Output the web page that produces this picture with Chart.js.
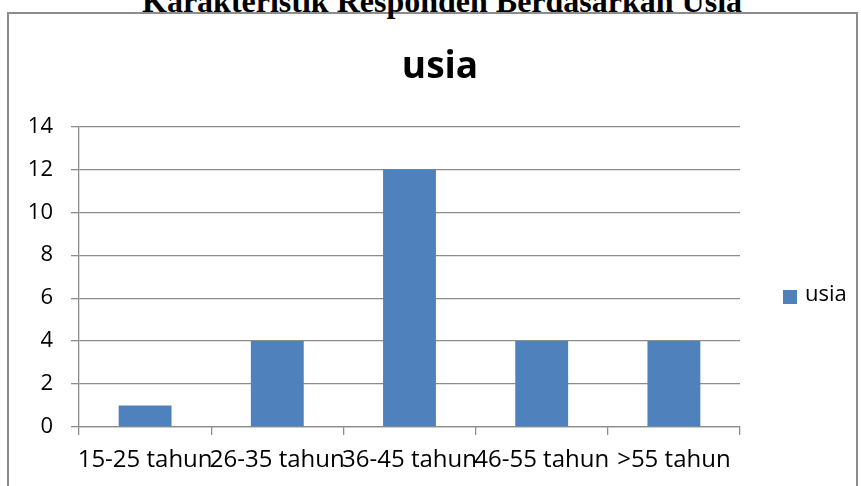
<!DOCTYPE html>
<html>
<head>
<meta charset="utf-8">
<script src="https://cdn.jsdelivr.net/npm/chart.js@4/dist/chart.umd.min.js"></script>
<style>
  body { margin: 0; background: #fff; overflow: hidden; }
  #heading {
    position: absolute; left: 142px; top: -15px;
    font: bold 32px "Liberation Serif", serif; line-height: 32px;
    white-space: nowrap; color: #000;
  }
  #frame {
    position: absolute; left: 7px; top: 12px; width: 851px; height: 490px;
    border: 2px solid #8c8c8c; box-sizing: border-box; background: #fff;
  }
  #wrap { position: absolute; left: 10px; top: 16px; width: 846px; height: 470px; }
</style>
</head>
<body>
<div id="frame"></div>
<div id="heading">Karakteristik Responden Berdasarkan Usia</div>
<div id="wrap"><canvas id="barChart"></canvas></div>
<script>
const categories = ["15-25 tahun", "26-35 tahun", "36-45 tahun", "46-55 tahun", ">55 tahun"];
const usiaValues = [1, 4, 12, 4, 4];
const seriesName = "usia";

const gridGray = "#8c8c8c";

// legend on the right, drawn by hand so it sits where Excel put it
const sideLegend = {
  id: "sideLegend",
  afterDraw(chart) {
    const { ctx, chartArea } = chart;
    const ds = chart.data.datasets[0];
    const cy = 281;
    ctx.save();
    ctx.fillStyle = ds.backgroundColor;
    ctx.fillRect(chartArea.right + 43, cy - 7, 14, 14);
    ctx.fillStyle = "#000";
    ctx.font = "22px 'Open Sans'";
    ctx.textBaseline = "middle";
    ctx.fillText(ds.label, chartArea.right + 65, cy - 2);
    ctx.restore();
  },
};

const ctx = document.getElementById("barChart").getContext("2d");
new Chart(ctx, {
  type: "bar",
  data: {
    labels: categories,
    datasets: [
      {
        label: seriesName,
        data: usiaValues,
        backgroundColor: "#4f81bd",
        barPercentage: 0.4,
        categoryPercentage: 1,
      },
    ],
  },
  options: {
    responsive: true,
    maintainAspectRatio: false,
    animation: false,
    layout: { padding: { left: 14, right: 0, top: 0, bottom: 0 } },
    plugins: {
      legend: { display: false },
      tooltip: { enabled: false },
      title: {
        display: true,
        text: seriesName,
        color: "#000",
        font: { family: "Open Sans", size: 37, weight: "bold" },
        padding: { top: 29, bottom: 37 },
      },
    },
    scales: {
      x: {
        grid: {
          offset: true,
          drawOnChartArea: false,
          drawTicks: true,
          tickLength: 8,
          color: gridGray,
          lineWidth: 1.3,
        },
        border: { display: true, color: gridGray, width: 1.3 },
        ticks: {
          color: "#000",
          font: { family: "Open Sans", size: 24 },
          padding: 11,
          maxRotation: 0,
          autoSkip: false,
        },
        afterFit(scale) {
          scale.height = 59;
        },
      },
      y: {
        min: 0,
        max: 14,
        ticks: {
          stepSize: 2,
          color: "#000",
          font: { family: "Open Sans", size: 22 },
          padding: 18,
        },
        grid: {
          color: gridGray,
          lineWidth: 1.3,
          tickLength: 8,
        },
        border: { display: true, color: gridGray, width: 1.3 },
        afterFit(scale) {
          scale.width = 55;
        },
      },
      // empty right-hand axis that only keeps room for the legend
      yRoom: {
        position: "right",
        display: true,
        grid: { display: false },
        border: { display: false },
        ticks: { display: false },
        afterFit(scale) {
          scale.width = 116;
        },
      },
    },
  },
  plugins: [sideLegend],
});
</script>
</body>
</html>
